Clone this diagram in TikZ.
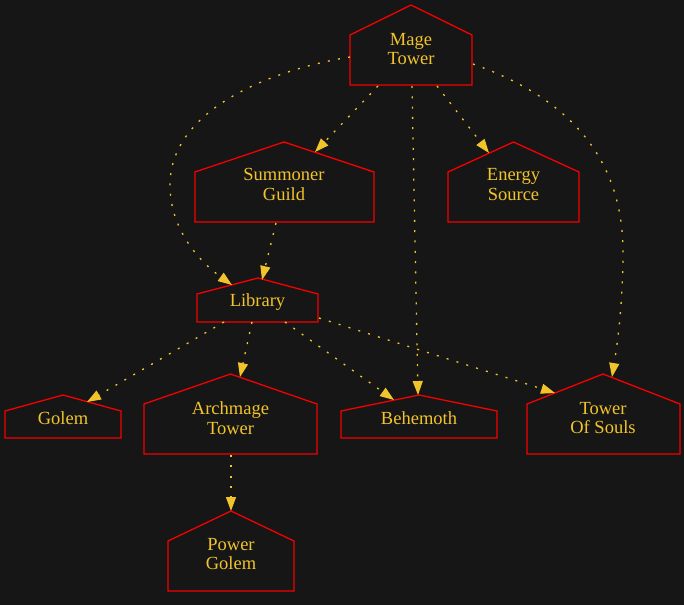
\documentclass[tikz,border=0pt]{standalone}
\usepackage{fontspec}
\setmainfont{Liberation Serif}
\usetikzlibrary{arrows.meta}
\definecolor{bgc}{RGB}{22,22,22}
\definecolor{hred}{RGB}{245,0,0}
\definecolor{gold}{RGB}{242,196,44}
\tikzset{
  house/.style={draw=hred, line width=1.3pt, line join=miter},
  lbl/.style={text=gold, font=\fontsize{18.5}{19.5}\selectfont, align=center, inner sep=0pt, anchor=center},
  edge/.style={draw=gold, line width=1.3pt, dash pattern=on 2pt off 8.3pt,
    -{Triangle[length=14pt,width=10pt,fill=gold]}},
}
\begin{document}
\begin{tikzpicture}[x=1pt,y=-1pt]
\fill[bgc] (0,0) rectangle (684,605);
\useasboundingbox (0,0) rectangle (684,605);

% houses
\draw[house] (350,85) -- (350,35) -- (411,5) -- (472,35) -- (472,85) -- cycle;
\node[lbl] (mt) at (411,49) {Mage\\Tower};

\draw[house] (195,222) -- (195,172) -- (284,142) -- (374,172) -- (374,222) -- cycle;
\node[lbl] (sg) at (284,184.5) {Summoner\\Guild};

\draw[house] (448,222) -- (448,172) -- (513.5,142) -- (579,172) -- (579,222) -- cycle;
\node[lbl] (es) at (513.5,184.5) {Energy\\Source};

\draw[house] (197,322) -- (197,294) -- (258,278) -- (318,294) -- (318,322) -- cycle;
\node[lbl] (lib) at (257.5,302.5) {Library};

\draw[house] (5,438) -- (5,411) -- (63,395) -- (121,411) -- (121,438) -- cycle;
\node[lbl] (go) at (63,418) {Golem};

\draw[house] (144,454) -- (144,404) -- (230.5,374) -- (317,404) -- (317,454) -- cycle;
\node[lbl] (am) at (230.5,418) {Archmage\\Tower};

\draw[house] (341,438) -- (341,411) -- (419,395) -- (497,411) -- (497,438) -- cycle;
\node[lbl] (be) at (419,418) {Behemoth};

\draw[house] (527,454) -- (527,404) -- (603,374) -- (680,404) -- (680,454) -- cycle;
\node[lbl] (ts) at (603,418) {Tower\\Of Souls};

\draw[house] (168,591) -- (168,541) -- (231,511) -- (294,541) -- (294,591) -- cycle;
\node[lbl] (pg) at (231,554) {Power\\Golem};

% connector end points on the outlines
\coordinate (mt-w) at (350,57);
\coordinate (mt-e) at (473,64);
\coordinate (mt-s1) at (378,86);
\coordinate (mt-s2) at (412,86);
\coordinate (mt-s3) at (437,86);
\coordinate (sg-n) at (315,152);
\coordinate (sg-s) at (276,223);
\coordinate (es-n) at (489,153);
\coordinate (lib-n1) at (232,285);
\coordinate (lib-n2) at (262,280);
\coordinate (lib-s1) at (224,322);
\coordinate (lib-s2) at (252,322);
\coordinate (lib-s3) at (285,322);
\coordinate (lib-e) at (319,318);
\coordinate (go-n) at (87,402);
\coordinate (am-n) at (240,377);
\coordinate (am-s) at (231,455);
\coordinate (be-n1) at (394,400);
\coordinate (be-n2) at (418,395);
\coordinate (ts-n1) at (555,393);
\coordinate (ts-n2) at (612,377);
\coordinate (pg-n) at (231,511);

% connectors
\draw[edge] (mt-w) .. controls (270,70) and (170,110) .. (170,185)
  .. controls (170,230) and (200,262) .. (lib-n1);
\draw[edge] (mt-e) .. controls (560,95) and (622,150) .. (623,250)
  .. controls (623,300) and (618,340) .. (ts-n2);
\draw[edge] (mt-s1) -- (sg-n);
\draw[edge] (mt-s2) -- (be-n2);
\draw[edge] (mt-s3) -- (es-n);
\draw[edge] (sg-s) -- (lib-n2);
\draw[edge] (lib-s1) -- (go-n);
\draw[edge] (lib-s2) -- (am-n);
\draw[edge] (lib-s3) -- (be-n1);
\draw[edge] (lib-e) -- (ts-n1);
\draw[edge] (am-s) -- (pg-n);
\end{tikzpicture}
\end{document}
